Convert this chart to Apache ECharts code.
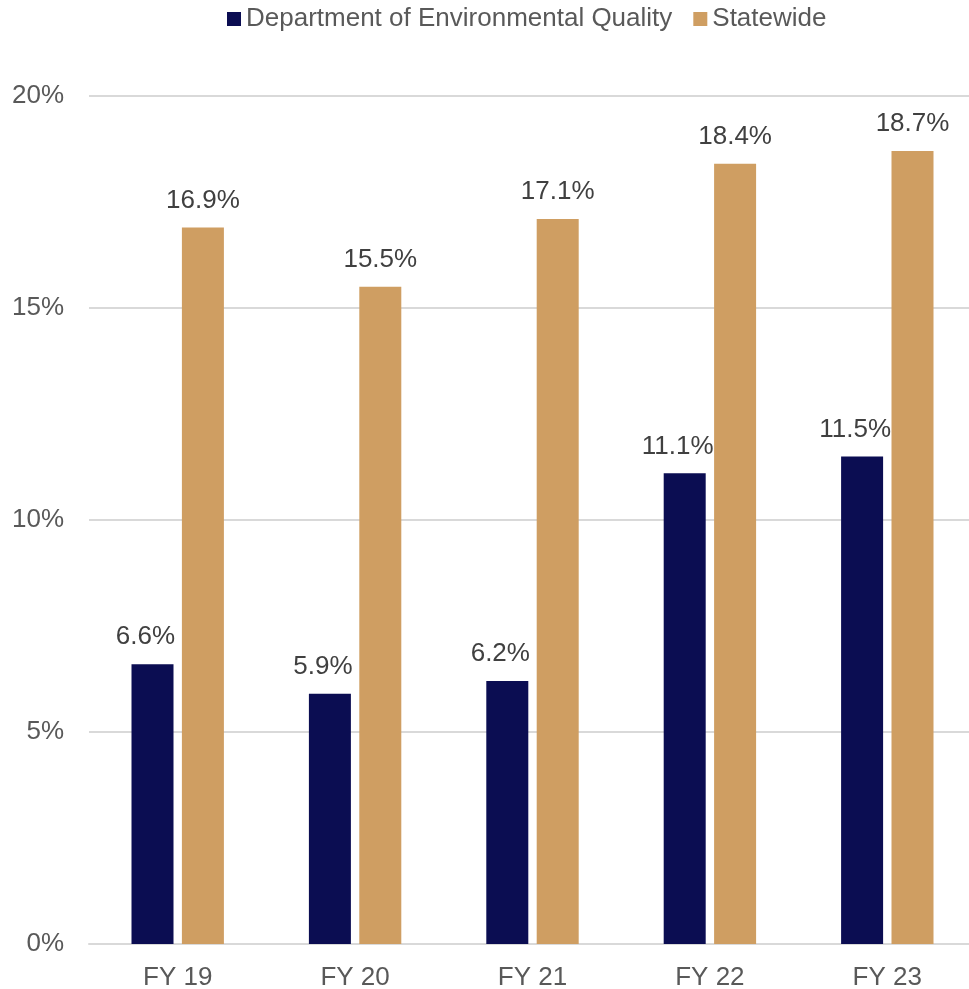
<!DOCTYPE html>
<html>
<head>
<meta charset="utf-8">
<script src="https://cdn.jsdelivr.net/npm/echarts@6/dist/echarts.min.js"></script>
<style>
html,body{margin:0;padding:0;background:#fff;}
#chart{width:969px;height:989px;}
</style>
</head>
<body>
<div id="chart"></div>
<script>
const categories = ['FY 19', 'FY 20', 'FY 21', 'FY 22', 'FY 23'];
const deqValues = [6.6, 5.9, 6.2, 11.1, 11.5];
const statewideValues = [16.9, 15.5, 17.1, 18.4, 18.7];
const seriesNames = ['Department of Environmental Quality', 'Statewide'];
const yTicks = [0, 5, 10, 15, 20];

const FONT = '"Liberation Sans", Arial, sans-serif';
const chart = echarts.init(document.getElementById('chart'), null, {renderer: 'canvas'});
function labelOpt(dx) {
  return {
    show: true,
    position: 'top',
    distance: 14,
    offset: [dx, 0],
    color: '#404040',
    fontSize: 26,
    fontFamily: FONT,
    formatter: p => p.value.toFixed(1) + '%'
  };
}
chart.setOption({
  animation: false,
  backgroundColor: '#ffffff',
  legend: {
    top: 1,
    left: 222,
    itemWidth: 14,
    itemHeight: 14,
    itemGap: 21,
    icon: 'rect',
    textStyle: {color: '#595959', fontSize: 26, fontFamily: FONT, padding: [0,0,0,0]},
    data: seriesNames
  },
  grid: {left: 89, top: 96, width: 887, height: 848, containLabel: false, outerBoundsMode: 'none'},
  xAxis: {
    type: 'category',
    data: categories,
    axisTick: {show: false},
    axisLine: {lineStyle: {color: '#d9d9d9', width: 2}},
    axisLabel: {color: '#595959', fontSize: 26, fontFamily: FONT, margin: 21}
  },
  yAxis: {
    type: 'value',
    min: yTicks[0],
    max: yTicks[yTicks.length - 1],
    interval: 5,
    axisLine: {show: false},
    axisTick: {show: false},
    splitLine: {lineStyle: {color: '#d9d9d9', width: 2}},
    axisLabel: {color: '#595959', fontSize: 26, fontFamily: FONT, margin: 25, formatter: v => v + '%'}
  },
  series: [
    {name: seriesNames[0], type: 'bar', data: deqValues, barWidth: 42, barGap: '20%',
     itemStyle: {color: '#0b0d52'}, label: labelOpt(-7)},
    {name: seriesNames[1], type: 'bar', data: statewideValues, barWidth: 42, barGap: '20%',
     itemStyle: {color: '#cf9e62'}, label: labelOpt(0)}
  ]
});
</script>
</body>
</html>
